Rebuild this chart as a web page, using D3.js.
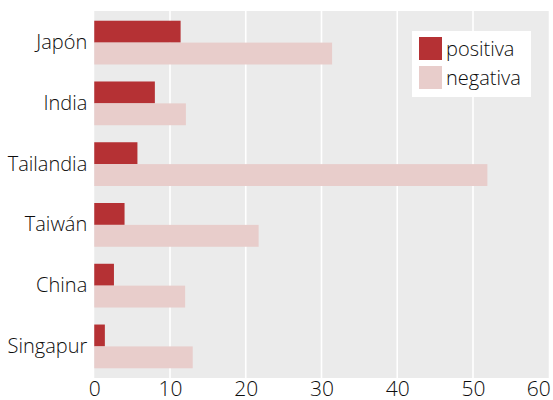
<!DOCTYPE html>
<html>
<head>
<meta charset="utf-8">
<script src="https://cdn.jsdelivr.net/npm/d3@7"></script>
<style>
    body { margin: 0; background: #fff; }
    text { font-family: "Open Sans", Lato, sans-serif; font-weight: 300; fill: #0d0d0d; }
</style>
</head>
<body>
<div id="chart"></div>
<script>
// data
let countries = ["Japón", "India", "Tailandia", "Taiwán", "China", "Singapur"];
let positiva = [11.4, 8.0, 5.7, 4.0, 2.6, 1.4];
let negativa = [31.4, 12.1, 51.9, 21.7, 12.0, 13.0];
let seriesNames = ["positiva", "negativa"];
let seriesColors = ["#b53134", "#e8cdcb"];
let xTicks = [0, 10, 20, 30, 40, 50, 60];

let totalW = 553, totalH = 400;
let margin = {top: 11, right: 4.25, bottom: 22, left: 94.25};
let width = totalW - margin.left - margin.right;
let height = totalH - margin.top - margin.bottom;

let svg = d3.select("#chart").append("svg")
    .attr("width", totalW)
    .attr("height", totalH)
    .append("g")
    .attr("transform", `translate(${margin.left}, ${margin.top})`);

// panel background
svg.append("rect")
    .attr("width", width)
    .attr("height", height)
    .attr("fill", "#ebebeb");

let xScale = d3.scaleLinear()
    .domain([0, 60])
    .range([0, width]);

let yScale = d3.scaleBand()
    .domain(countries)
    .range([0, height])
    .paddingInner(0.28)
    .paddingOuter(0.16);

let subScale = d3.scaleBand()
    .domain(seriesNames)
    .range([0, yScale.bandwidth()]);

// vertical grid lines
svg.selectAll(".grid")
    .data(xTicks.filter(d => d > 0 && d < 60))
    .enter().append("line")
    .attr("class", "grid")
    .attr("x1", d => xScale(d))
    .attr("x2", d => xScale(d))
    .attr("y1", 0)
    .attr("y2", height)
    .attr("stroke", "#fff")
    .attr("stroke-width", 1.6);

// bars
let rows = countries.map((c, i) => ({country: c, values: [positiva[i], negativa[i]]}));

let groups = svg.selectAll(".row")
    .data(rows)
    .enter().append("g")
    .attr("class", "row")
    .attr("transform", d => `translate(0, ${yScale(d.country)})`);

groups.selectAll("rect")
    .data(d => d.values.map((v, j) => ({key: seriesNames[j], value: v, color: seriesColors[j]})))
    .enter().append("rect")
    .attr("x", 0)
    .attr("y", d => subScale(d.key))
    .attr("width", d => xScale(d.value))
    .attr("height", subScale.bandwidth())
    .attr("fill", d => d.color);

// axes
let xAxis = d3.axisBottom(xScale).tickValues(xTicks).tickSize(0).tickPadding(3);
let xg = svg.append("g")
    .attr("transform", `translate(0, ${height})`)
    .call(xAxis);
xg.select(".domain").remove();
xg.selectAll("text")
    .attr("font-size", 21)
    .attr("fill", "#0d0d0d");
xg.selectAll(".tick").filter(d => d === 60).select("text")
    .attr("text-anchor", "end")
    .attr("dx", 1.5);

let yAxis = d3.axisLeft(yScale).tickSize(0).tickPadding(7);
let yg = svg.append("g").call(yAxis);
yg.select(".domain").remove();
yg.selectAll("text")
    .attr("font-size", 20)
    .attr("fill", "#0d0d0d");

// legend
let legend = svg.append("g")
    .attr("transform", `translate(${412 - margin.left}, ${31 - margin.top})`);

legend.append("rect")
    .attr("width", 119)
    .attr("height", 66)
    .attr("fill", "#fff");

seriesNames.forEach((s, i) => {
    legend.append("rect")
        .attr("x", 7)
        .attr("y", 6 + i * 29)
        .attr("width", 23)
        .attr("height", 23)
        .attr("fill", seriesColors[i]);
    legend.append("text")
        .attr("x", 34)
        .attr("y", 6 + i * 29 + 11.5)
        .attr("dy", "0.35em")
        .attr("font-size", 20)
        .text(s);
});
</script>
</body>
</html>
